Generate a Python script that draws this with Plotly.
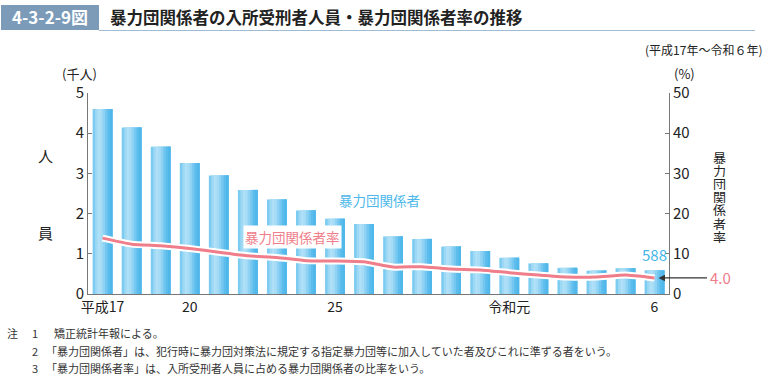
import plotly.graph_objects as go

years = ["平成17", "18", "19", "20", "21", "22", "23", "24", "25", "26",
         "27", "28", "29", "30", "令和元", "2", "3", "4", "5", "6"]
members = [4.60, 4.14, 3.66, 3.26, 2.95, 2.59, 2.35, 2.08, 1.87, 1.74,
           1.43, 1.37, 1.18, 1.07, 0.90, 0.76, 0.65, 0.58, 0.64, 0.588]
rate = [13.9, 12.4, 12.0, 11.3, 10.4, 9.5, 9.1, 8.3, 8.2, 8.0,
        6.7, 6.8, 6.2, 6.0, 5.3, 4.7, 4.2, 4.2, 4.7, 4.0]
tick_idx = [0, 3, 8, 14, 19]
tick_text = ["平成17", "20", "25", "令和元", "6"]

FONT = "Noto Sans CJK JP"
xs = list(range(len(years)))

W, H = 769, 378
L, R, T, B = 88, 669, 93, 294   # plot area in pixels

def px(x): return (x - L) / (R - L)
def py(y): return (B - y) / (B - T)

fig = go.Figure()

# gradient bars built from overlapping slices
grad = ["#7ccbf0", "#9dd8f4", "#b0e0f7", "#a6dcf6", "#8fd2f3", "#74c7f0", "#5cbdec", "#4fb7ea"]
bw = 0.68
n = len(grad)
sw = bw / n
for i, c in enumerate(grad):
    fig.add_trace(go.Bar(x=xs, y=members, width=bw - i * sw, offset=-bw / 2 + i * sw,
                         marker=dict(color=c, line=dict(width=0)),
                         showlegend=False, hoverinfo="skip"))

fig.add_trace(go.Scatter(x=xs, y=rate, yaxis="y2", mode="lines",
                         line=dict(color="white", width=7, shape="spline", smoothing=0.4),
                         showlegend=False, hoverinfo="skip"))
fig.add_trace(go.Scatter(x=xs, y=rate, yaxis="y2", mode="lines",
                         line=dict(color="#ef7d8a", width=3, shape="spline", smoothing=0.4),
                         showlegend=False))

ann = []
def t(x, y, s, size=12, color="#222", xa="center", ya="middle", **kw):
    ann.append(dict(x=px(x), y=py(y), xref="paper", yref="paper", text=s, showarrow=False,
                    font=dict(family=FONT, size=size, color=color), xanchor=xa, yanchor=ya, **kw))

t(50, 17, "<b>4-3-2-9図</b>", 17, "white")
t(108, 17, "<b>暴力団関係者の入所受刑者人員・暴力団関係者率の推移</b>", 16.5, "#222", xa="left")
t(764, 49, "(平成17年〜令和６年)", 12, "#222", xa="right")
t(79, 73, "(千人)", 13, "#222")
t(684, 73, "(%)", 13, "#222")
t(45, 155, "人", 15, "#222")
t(45, 232, "員", 15, "#222")
for i, ch in enumerate("暴力団関係者率"):
    t(719, 157 + i * 13.2, ch, 13, "#222", height=13, width=15)
t(379, 200, "暴力団関係者", 13.5, "#4db8ea")
t(292, 237, "暴力団関係者率", 13.5, "#ef7d8a", bgcolor="white", borderpad=1)

fn = 11
t(12, 333, "注", fn, "#333")
t(35, 333, "1", fn, "#333")
t(52, 333, "矯正統計年報による。", fn, "#333", xa="left")
t(35, 351, "2", fn, "#333")
t(44, 351, "「暴力団関係者」は、犯行時に暴力団対策法に規定する指定暴力団等に加入していた者及びこれに準ずる者をいう。", fn, "#333", xa="left")
t(35, 368, "3", fn, "#333")
t(44, 368, "「暴力団関係者率」は、入所受刑者人員に占める暴力団関係者の比率をいう。", fn, "#333", xa="left")

# data-bound annotations
last = len(years) - 1
ann.append(dict(x=last, y=members[last], xref="x", yref="y", text="588", showarrow=False,
                yanchor="bottom", yshift=3, font=dict(family=FONT, size=15, color="#45b5e8")))
ann.append(dict(x=last, y=rate[last], xref="x", yref="y2", text="", showarrow=True,
                ax=50, ay=0, axref="pixel", ayref="pixel", arrowhead=2, arrowsize=1,
                arrowwidth=1.3, arrowcolor="#333", xshift=4))
ann.append(dict(x=last, y=rate[last], xref="x", yref="y2", text="4.0", showarrow=False,
                xanchor="left", xshift=54, font=dict(family=FONT, size=15, color="#ef7d8a")))

fig.update_layout(
    width=W, height=H,
    margin=dict(l=L, r=W - R, t=T, b=H - B, autoexpand=False),
    paper_bgcolor="white", plot_bgcolor="white",
    barmode="overlay", showlegend=False,
    font=dict(family=FONT, color="#222"),
    xaxis=dict(range=[-0.5, 19.5], tickmode="array", tickvals=tick_idx, ticktext=tick_text,
               showline=True, linecolor="#777", linewidth=1, ticks="", showgrid=False,
               zeroline=False, tickfont=dict(size=14, color="#222"), automargin=False),
    yaxis=dict(range=[0, 5], dtick=1, showline=True, linecolor="#777", linewidth=1,
               ticks="inside", ticklen=4, tickcolor="#777", showgrid=False, zeroline=False,
               tickfont=dict(size=15, color="#222"), automargin=False),
    yaxis2=dict(range=[0, 50], dtick=10, overlaying="y", side="right", showline=True,
                linecolor="#777", linewidth=1, ticks="inside", ticklen=4, tickcolor="#777",
                showgrid=False, zeroline=False, tickfont=dict(size=15, color="#222"),
                automargin=False),
    annotations=ann,
    shapes=[
        dict(type="rect", xref="paper", yref="paper", x0=px(1), x1=px(99), y0=py(30), y1=py(5),
             fillcolor="#7b9bb8", line=dict(width=0), layer="below"),
        dict(type="line", xref="paper", yref="paper", x0=px(99), x1=px(755), y0=py(30.5), y1=py(30.5),
             line=dict(color="#9fbcd4", width=1)),
    ],
)

fig.write_html("out.html", config={"displayModeBar": False},
               post_script="document.body.style.margin='0';document.body.style.overflow='hidden';")
